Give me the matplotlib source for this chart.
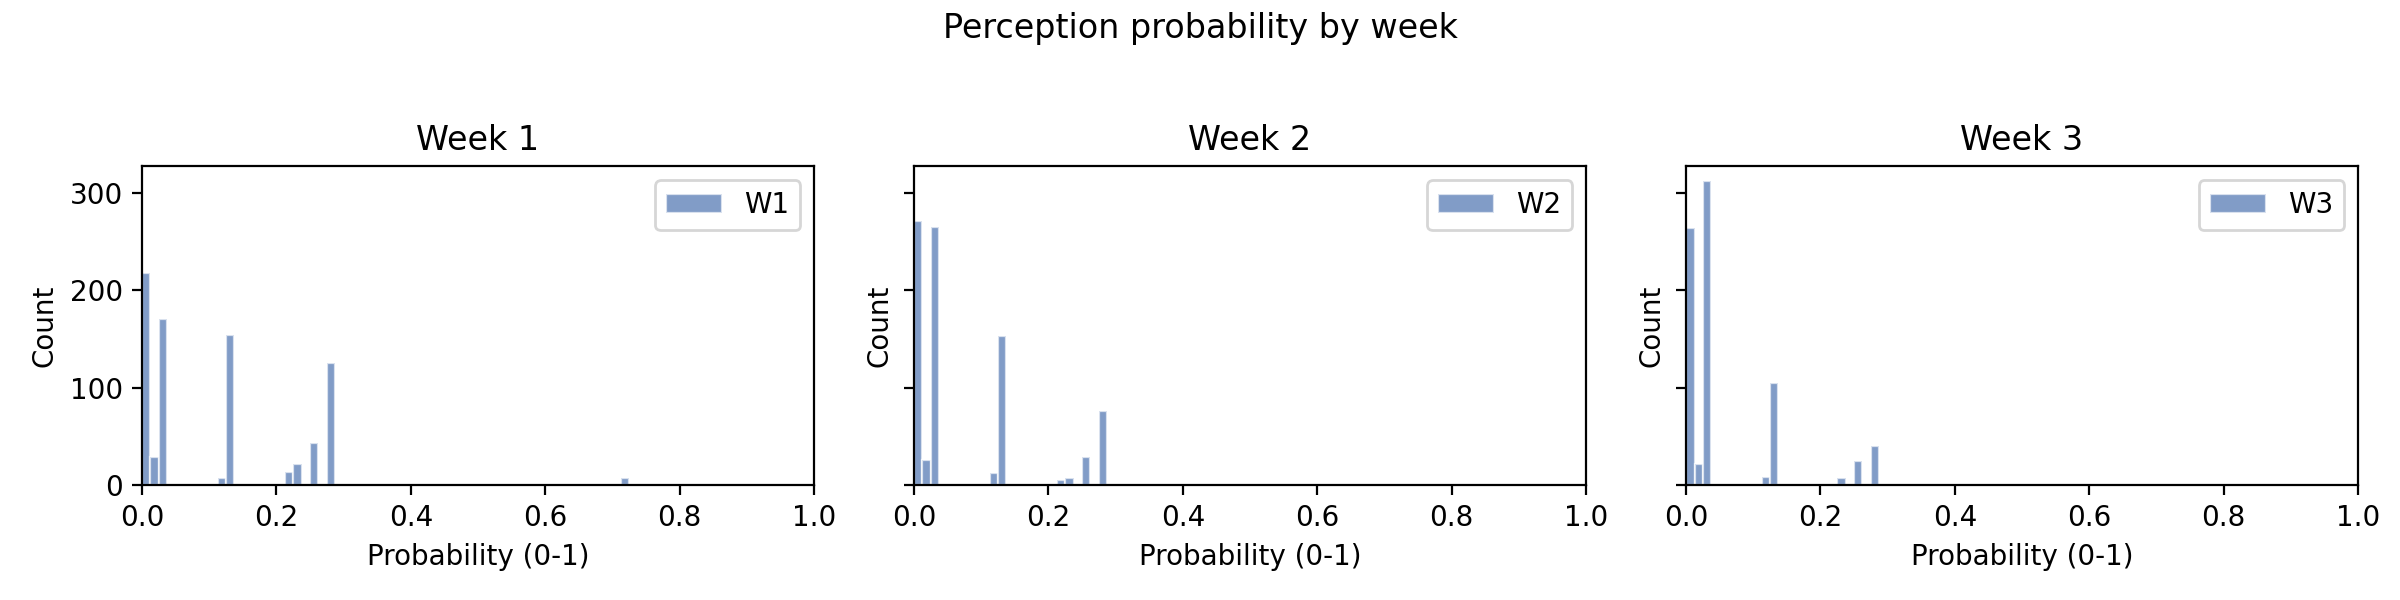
import numpy as np
import matplotlib
matplotlib.use("Agg")
import matplotlib.pyplot as plt

# Histogram bins: 80 equal bins over [0, 1]
bin_edges = np.linspace(0, 1, 81)
bin_width = bin_edges[1] - bin_edges[0]

# Left edges of the non-empty bins, and the counts
bin_left = [0.0, 0.0125, 0.025, 0.0625, 0.1125, 0.125, 0.2, 0.2125,
            0.225, 0.25, 0.275, 0.3, 0.7125, 0.75]
counts_w1 = [218, 29, 170, 0, 7, 154, 1, 13, 21, 43, 125, 1, 7, 1]
counts_w2 = [271, 26, 265, 0, 12, 153, 0, 5, 7, 29, 76, 0, 0, 0]
counts_w3 = [264, 21, 312, 1, 8, 105, 1, 0, 7, 24, 40, 1, 0, 0]

weeks = ["Week 1", "Week 2", "Week 3"]
labels = ["W1", "W2", "W3"]
all_counts = [counts_w1, counts_w2, counts_w3]

centers = np.array(bin_left) + bin_width / 2

fig, axes = plt.subplots(1, 3, figsize=(12, 3), dpi=200, sharey=True)
fig.subplots_adjust(left=0.0592, right=0.9825, top=0.723, bottom=0.192, wspace=0.149)

for ax, title, lab, cnt in zip(axes, weeks, labels, all_counts):
    ax.hist(centers, bins=bin_edges, weights=cnt, color="#4c72b0",
            alpha=0.7, edgecolor="white", linewidth=0.8, label=lab)
    ax.set_xlim(0, 1)
    ax.set_title(title, fontsize=12)
    ax.set_xlabel("Probability (0-1)")
    ax.set_ylabel("Count")
    ax.legend(loc="upper right")

fig.suptitle("Perception probability by week", fontsize=12)
fig.savefig("out.png", dpi=200)
